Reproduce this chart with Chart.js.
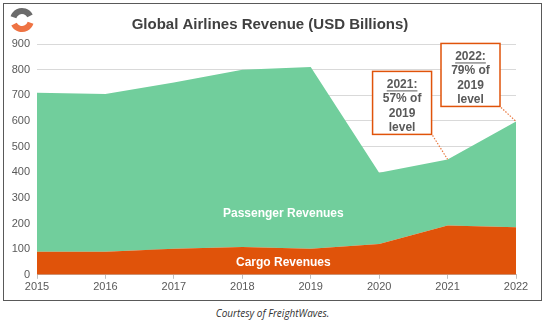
<!DOCTYPE html>
<html>
<head>
<meta charset="utf-8">
<script src="https://cdn.jsdelivr.net/npm/chart.js@4.4.0/dist/chart.umd.min.js"></script>
<style>
  body { margin: 0; background: #fff; width: 545px; height: 326px; position: relative; overflow: hidden; }
  #frame { position: absolute; left: 3px; top: 3px; width: 539px; height: 298px; border: 1px solid #595959; box-sizing: border-box; }
  #graficoReceita { display: block; }
  #credito { position: absolute; left: 0; top: 306px; width: 545px; text-align: center;
    font: italic 10px "Open Sans", sans-serif; color: #333; }
</style>
</head>
<body>
<div id="frame"><canvas id="graficoReceita" width="537" height="296"></canvas></div>
<div id="credito">Courtesy of FreightWaves.</div>
<script>
// Receita das companhias aéreas, em bilhões de USD
var anos = ['2015', '2016', '2017', '2018', '2019', '2020', '2021', '2022'];
var receitaCarga = [90, 90, 102, 108, 102, 120, 192, 185];
var receitaPassageiros = [620, 615, 648, 692, 708, 278, 258, 413];
var ticksY = [0, 100, 200, 300, 400, 500, 600, 700, 800, 900];

// Notas: índice do ano e linhas do texto
var notas = [
    { idx: 6, linhas: ['2021:', '57% of', '2019', 'level'], dx: -75, dy: -88 },
    { idx: 7, linhas: ['2022:', '79% of', '2019', 'level'], dx: -75, dy: -78 }
];

var laranja = '#E0530A';
var verde = '#71CE9C';
var cinzaTexto = '#595959';

// Logo, titulo, rótulos das áreas e caixas de nota
var extras = {
    id: 'extras',
    afterDatasetsDraw: function(chart) {
        var ctx = chart.ctx;
        var x = chart.scales.x, y = chart.scales.y;
        ctx.save();

        // logo
        ctx.lineCap = 'butt';
        ctx.lineWidth = 6;
        ctx.strokeStyle = '#6b6b6b';
        ctx.beginPath();
        ctx.arc(18, 16, 9, Math.PI * 1.1, Math.PI * 1.85);
        ctx.stroke();
        ctx.strokeStyle = '#EE7343';
        ctx.beginPath();
        ctx.arc(18, 16, 9, Math.PI * 0.1, Math.PI * 0.85);
        ctx.stroke();

        // titulo
        ctx.fillStyle = '#404040';
        ctx.font = 'bold 15px "Liberation Sans", Arial, sans-serif';
        ctx.textAlign = 'center';
        ctx.textBaseline = 'middle';
        ctx.fillText('Global Airlines Revenue (USD Billions)', 266, 21);

        // rótulos das áreas
        ctx.fillStyle = '#fff';
        ctx.font = 'bold 12px "Liberation Sans", Arial, sans-serif';
        ctx.fillText('Passenger Revenues', x.getPixelForValue(3.6), y.getPixelForValue(240));
        ctx.fillText('Cargo Revenues', x.getPixelForValue(3.6), y.getPixelForValue(46));

        // caixas de nota
        notas.forEach(function(n) {
            var px = x.getPixelForValue(n.idx);
            var py = y.getPixelForValue(receitaCarga[n.idx] + receitaPassageiros[n.idx]);
            var w = 59, h = 63;
            var left = px + n.dx, top = py + n.dy;
            var cx = left + w / 2, bottom = top + h;

            // linha pontilhada até o ponto
            ctx.strokeStyle = '#E9783F';
            ctx.lineWidth = 1.2;
            ctx.setLineDash([1.5, 1.5]);
            ctx.beginPath();
            ctx.moveTo(left + w + 1, bottom + 1);
            ctx.lineTo(px, py);
            ctx.stroke();
            ctx.setLineDash([]);

            ctx.fillStyle = '#fff';
            ctx.fillRect(left, top, w, h);
            ctx.strokeStyle = laranja;
            ctx.lineWidth = 1.5;
            ctx.strokeRect(left, top, w, h);

            ctx.fillStyle = cinzaTexto;
            ctx.font = 'bold 12px "Liberation Sans", Arial, sans-serif';
            n.linhas.forEach(function(t, i) {
                var ty = top + 13 + i * 14.5;
                ctx.fillText(t, cx, ty);
                if (i === 0) {
                    var tw = ctx.measureText(t).width;
                    ctx.fillRect(cx - tw / 2, ty + 6, tw, 1);
                }
            });
        });
        ctx.restore();
    }
};

var ctx = document.getElementById('graficoReceita').getContext('2d');
var receitaChart = new Chart(ctx, {
    type: 'line',
    data: {
        labels: anos,
        datasets: [{
            label: 'Cargo Revenues',
            data: receitaCarga,
            backgroundColor: laranja,
            borderWidth: 0,
            pointRadius: 0,
            fill: 'origin',
            tension: 0
        }, {
            label: 'Passenger Revenues',
            data: receitaPassageiros,
            backgroundColor: verde,
            borderWidth: 0,
            pointRadius: 0,
            fill: '-1',
            tension: 0
        }]
    },
    options: {
        responsive: false,
        animation: false,
        layout: { padding: { top: 40, right: 25, left: 0, bottom: 4 } },
        plugins: {
            legend: { display: false },
            tooltip: { enabled: false }
        },
        scales: {
            x: {
                offset: false,
                grid: { display: true, drawOnChartArea: false, drawTicks: true, tickLength: 4, color: '#bfbfbf' },
                border: { display: true, color: '#bfbfbf' },
                ticks: { color: cinzaTexto, font: { family: '"Liberation Sans", Arial, sans-serif', size: 11 }, padding: 2, maxRotation: 0 }
            },
            y: {
                stacked: true,
                min: 0,
                max: 900,
                afterBuildTicks: function(scale) {
                    scale.ticks = ticksY.map(function(v) { return { value: v }; });
                },
                afterFit: function(scale) { scale.width = 33; },
                grid: { color: '#d9d9d9', drawTicks: false },
                border: { display: false },
                ticks: { color: cinzaTexto, font: { family: '"Liberation Sans", Arial, sans-serif', size: 11 }, padding: 7 }
            }
        }
    },
    plugins: [extras]
});
</script>
</body>
</html>
